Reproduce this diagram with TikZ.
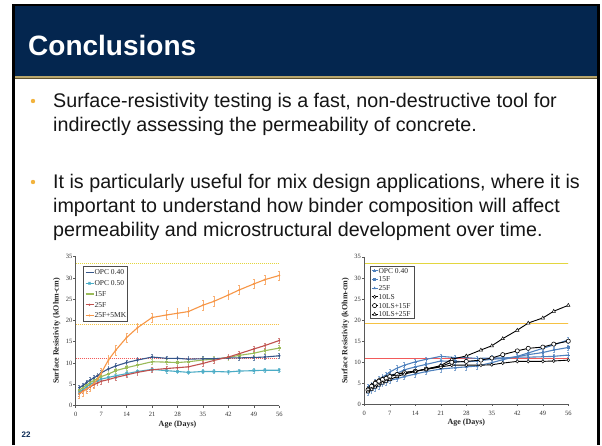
\documentclass[tikz,border=0pt]{standalone}
\usepackage{fontspec}
\setmainfont{Liberation Sans}
\newfontfamily\chartfont{Liberation Serif}
\definecolor{titlebg}{HTML}{04264F}
\definecolor{goldc}{HTML}{B9A66C}
\definecolor{golddk}{HTML}{5E5230}
\definecolor{bulc}{HTML}{F2B33D}
\definecolor{txtc}{HTML}{151515}
\definecolor{numc}{HTML}{0B2A55}
\definecolor{navyS}{HTML}{36568A}
\definecolor{cyanS}{HTML}{4BACC6}
\definecolor{greenS}{HTML}{9BBB59}
\definecolor{redS}{HTML}{C0504D}
\definecolor{orangeS}{HTML}{F79646}
\definecolor{blueS}{HTML}{4F81BD}
\definecolor{yelA}{HTML}{E3D63F}
\definecolor{yelB}{HTML}{F5C243}
\definecolor{redD}{HTML}{F25A5A}
\tikzset{
  txt/.style={anchor=base west, inner sep=0pt, text=txtc, font=\fontsize{19.7}{22}\selectfont},
  ticklab/.style={inner sep=0pt, text=black!80, font=\chartfont\fontsize{6.5}{7}\selectfont},
  axtitle/.style={inner sep=0pt, text=black!85, font=\chartfont\bfseries\fontsize{8}{9}\selectfont},
  leg/.style={anchor=west, inner sep=0pt, text=black!85, font=\chartfont\fontsize{7.5}{8}\selectfont},
  axisln/.style={draw=black!65, line width=0.5pt},
  thrA/.style={draw=yelA, line width=0.8pt, dash pattern=on 1.2pt off 0.8pt},
  thrB/.style={draw=yelB, line width=0.8pt, dash pattern=on 1.2pt off 0.8pt},
  thrC/.style={draw=redD, line width=0.8pt, dash pattern=on 1.2pt off 0.8pt},
  serln/.style={line width=1.1pt, line join=round},
  errln/.style={line width=0.45pt},
  pics/mksq/.style={code={\fill[#1] (-1.2pt,-1.2pt) rectangle (1.2pt,1.2pt);}},
  pics/mkdot/.style={code={\fill[#1] (0,0) circle (1.1pt);}},
  pics/mkdia/.style={code={\fill[#1] (0,1.5pt) -- (1.3pt,0) -- (0,-1.5pt) -- (-1.3pt,0) -- cycle;}},
  pics/mkx/.style={code={\draw[#1, line width=0.5pt] (-1.3pt,-1.3pt) -- (1.3pt,1.3pt) (-1.3pt,1.3pt) -- (1.3pt,-1.3pt) (0,-1.5pt) -- (0,1.5pt);}},
  pics/mktri/.style={code={\fill[#1] (0,1.7pt) -- (-1.5pt,-1.0pt) -- (1.5pt,-1.0pt) -- cycle;}},
  pics/mkplus/.style={code={\draw[#1, line width=0.6pt] (-1.4pt,0) -- (1.4pt,0) (0,-1.4pt) -- (0,1.4pt);}},
  pics/mkocirc/.style={code={\draw[black, line width=0.6pt, fill=white] (0,0) circle (2.1pt);}},
  pics/mkodia/.style={code={\draw[black, line width=0.5pt, fill=white] (0,1.6pt) -- (1.4pt,0) -- (0,-1.6pt) -- (-1.4pt,0) -- cycle;}},
  pics/mkotri/.style={code={\draw[black, line width=0.5pt, fill=white] (0,1.9pt) -- (-1.7pt,-1.1pt) -- (1.7pt,-1.1pt) -- cycle;}},
}
% data
\def\dNavy{1/4.2,2/4.7,3/5.4,4/6.0,5/6.5,6/7.0,7/7.7,9/8.6,11/9.3,14/10.1,17/10.7,21/11.4,25/11.1,28/11.1,31/10.9,35/11.0,38/11.0,42/11.2,45/11.2,49/11.3,52/11.4,56/11.7}
\def\dCyan{1/3.2,2/3.8,3/4.4,4/5.0,5/5.4,6/5.8,7/6.2,9/6.6,11/7.0,14/7.5,17/8.0,21/8.5,25/8.2,28/8.0,31/7.8,35/8.0,38/8.0,42/7.9,45/8.1,49/8.2,52/8.3,56/8.3}
\def\dGreen{1/3.6,2/4.2,3/4.8,4/5.4,5/5.9,6/6.3,7/6.8,9/7.4,11/8.2,14/8.9,17/9.5,21/10.3,25/10.2,28/10.1,31/10.3,35/10.7,38/10.9,42/11.3,45/11.8,49/12.3,52/12.9,56/13.5}
\def\dRed{1/2.8,2/3.4,3/3.9,4/4.4,5/4.9,6/5.3,7/5.7,9/6.1,11/6.6,14/7.2,17/7.8,21/8.4,25/8.7,28/8.9,31/9.1,35/9.9,38/10.6,42/11.4,45/12.2,49/13.3,52/14.1,56/15.3}
\def\dOrange{1/2.8,2/3.3,3/3.9,4/4.5,5/5.2,6/6.2,7/7.6,9/10.7,11/13.0,14/16.0,17/18.3,21/20.7,25/21.3,28/21.7,31/22.1,35/23.6,38/24.5,42/26.0,45/27.2,49/28.6,52/29.6,56/30.6}
\def\dLS{1/3.8,2/4.6,3/5.4,4/5.9,5/6.2,6/6.5,7/6.9,9/7.2,11/7.6,14/7.9,17/8.3,21/8.9,24/9.3,28/9.3,32/9.3,35/9.4,38/9.8,42/10.2,45/10.2,49/10.2,52/10.3,56/10.5}
\def\dLSa{1/3.4,2/4.3,3/5.0,4/5.5,5/5.9,6/6.2,7/6.6,9/7.1,11/7.5,14/7.9,17/8.4,21/9.0,24/10.0,28/10.2,32/10.5,35/11.0,38/11.8,42/12.7,45/13.3,49/13.6,52/14.3,56/15.0}
\def\dLSb{1/3.0,2/3.6,3/4.1,4/4.6,5/5.1,6/5.5,7/5.9,9/6.6,11/7.2,14/7.8,17/8.4,21/9.2,24/10.7,28/11.5,32/12.9,35/13.9,38/15.6,42/17.6,45/19.3,49/20.5,52/22.1,56/23.5}
\newcommand\serline[3]{\draw[serln,#1] (#2) \foreach \xd/\yv in #3 { -- (\xd,\yv)};}
\newcommand\sermarks[2]{\foreach \xd/\yv in #2 {\pic at (\xd,\yv) {#1};}}
\newcommand\sererr[3]{\foreach \xd/\yv in #3 {\draw[errln,#1] ([xshift=-0.9pt]\xd,\yv-#2) -- ([xshift=0.9pt]\xd,\yv-#2) (\xd,\yv-#2) -- (\xd,\yv+#2) ([xshift=-0.9pt]\xd,\yv+#2) -- ([xshift=0.9pt]\xd,\yv+#2);}}
\newcommand\chartaxes[1]{%
  \draw[thrA] (0,33.5) -- (56,33.5);
  \draw[thrB] (0,19.1) -- (56,19.1);
  \draw[thrC] (0,11.0) -- (56,11.0);
  \draw[axisln] (0,35) -- (0,0) -- (56,0);
  \foreach \t in {0,5,...,35}{\draw[axisln] (0,\t) -- ++(-2.3pt,0);
    \node[ticklab,anchor=east] (#1y\t) at ([xshift=-3.2pt]0,\t) {\t};}
  \foreach \t in {0,7,...,56}{\draw[axisln] (\t,0) -- ++(0,-2pt);
    \node[ticklab,anchor=base] (#1x\t) at ([yshift=-11pt]\t,0) {\t};}
  \node[axtitle,rotate=90] (#1yt) at ([xshift=-19pt]0,17.5) {Surface Resistivity (kOhm-cm)};
  \node[axtitle,anchor=base] (#1xt) at ([yshift=-20.5pt]28,0) {Age (Days)};
}
\begin{document}
\begin{tikzpicture}[x=1pt,y=-1pt]
\useasboundingbox (0,0) rectangle (602,445);
\fill[white] (0,0) rectangle (602,445);
% slide frame
\fill[black] (11.7,3.8) rectangle (600.3,445);
\fill[white] (14.8,6) rectangle (597.3,445);
\fill[titlebg] (14.8,6) rectangle (597.3,75.5);
\fill[goldc] (14.8,75.5) rectangle (597.3,78.3);
\draw[golddk, line width=0.7pt] (14.8,78.4) -- (597.3,78.4);
\node[anchor=base west, inner sep=0pt, text=white, font=\fontsize{28}{30}\selectfont\bfseries] (title) at (28,55) {Conclusions};
% bullets
\fill[bulc] (33,101) circle (2.2pt);
\node[txt] (b1a) at (53,107) {Surface-resistivity testing is a fast, non-destructive tool for};
\node[txt] (b1b) at (53,131) {indirectly assessing the permeability of concrete.};
\fill[bulc] (33,182) circle (2.2pt);
\node[txt] (b2a) at (53,188) {It is particularly useful for mix design applications, where it is};
\node[txt] (b2b) at (53,212) {important to understand how binder composition will affect};
\node[txt] (b2c) at (53,236) {permeability and microstructural development over time.};
% slide number
\node[anchor=base west, inner sep=0pt, text=numc, font=\fontsize{8}{9}\selectfont\bfseries] (pnum) at (21.5,437) {22};
% ---------- left chart ----------
\begin{scope}[shift={(75.7pt,-405.5pt)}, x=3.636pt, y=4.251pt]
  \chartaxes{L}
  \sererr{navyS!70}{0.6}{\dNavy}
  \sererr{cyanS!70}{0.5}{\dCyan}
  \sererr{greenS!70}{0.6}{\dGreen}
  \sererr{redS!70}{0.6}{\dRed}
  \sererr{orangeS!75}{1.1}{\dOrange}
  \serline{cyanS}{1,3.2}{\dCyan}
  \sermarks{mkx=cyanS}{\dCyan}
  \serline{greenS}{1,3.6}{\dGreen}
  \sermarks{mksq=greenS}{\dGreen}
  \serline{navyS}{1,4.2}{\dNavy}
  \sermarks{mkdia=navyS}{\dNavy}
  \serline{redS}{1,2.8}{\dRed}
  \sermarks{mkdot=redS}{\dRed}
  \serline{orangeS}{1,2.8}{\dOrange}
  \sermarks{mkdot=orangeS}{\dOrange}
\end{scope}
% left legend
\draw[black!70, line width=0.5pt, fill=white] (83.3,266.7) rectangle (127.3,321.7);
\draw[serln, navyS] (85.5,272.5) -- (93.5,272.5);
\node[leg] (lg1) at (94.3,272.5) {OPC 0.40};
\draw[serln, cyanS] (85.5,283.3) -- (93.5,283.3); \pic at (89.5,283.3) {mkx=cyanS};
\node[leg] (lg2) at (94.3,283.3) {OPC 0.50};
\draw[serln, greenS] (85.5,294) -- (93.5,294); \pic at (89.5,294) {mksq=greenS};
\node[leg] (lg3) at (94.3,294) {15F};
\draw[serln, redS] (85.5,304.8) -- (93.5,304.8); \pic at (89.5,304.8) {mkdot=redS};
\node[leg] (lg4) at (94.3,304.8) {25F};
\draw[serln, orangeS] (85.5,315.5) -- (93.5,315.5); \pic at (89.5,315.5) {mkdot=orangeS};
\node[leg] (lg5) at (94.3,315.5) {25F+5MK};
% ---------- right chart ----------
\begin{scope}[shift={(364.3pt,-404.4pt)}, x=3.643pt, y=4.217pt]
  \chartaxes{R}
  \sererr{blueS!70}{0.6}{\dNavy}
  \sererr{blueS!70}{0.6}{\dGreen}
  \sererr{blueS!70}{0.7}{\dRed}
  \serline{blueS}{1,4.2}{\dNavy}
  \sermarks{mkplus=blueS}{\dNavy}
  \serline{blueS}{1,3.6}{\dGreen}
  \sermarks{mksq=blueS}{\dGreen}
  \serline{blueS}{1,2.8}{\dRed}
  \sermarks{mktri=blueS}{\dRed}
  \serline{black, line width=0.9pt}{1,3.8}{\dLS}
  \sermarks{mkodia}{\dLS}
  \serline{black, line width=0.9pt}{1,3.4}{\dLSa}
  \sermarks{mkocirc}{\dLSa}
  \serline{black, line width=0.9pt}{1,3.0}{\dLSb}
  \sermarks{mkotri}{\dLSb}
\end{scope}
% right legend
\draw[black!70, line width=0.5pt, fill=white] (370,266) rectangle (414,318.3);
\draw[serln, blueS] (371.5,270.8) -- (377.7,270.8); \pic at (374.6,270.8) {mkplus=blueS};
\node[leg] (rg1) at (378.3,270.8) {OPC 0.40};
\draw[serln, blueS] (371.5,279.5) -- (377.7,279.5); \pic at (374.6,279.5) {mksq=blueS};
\node[leg] (rg2) at (378.3,279.5) {15F};
\draw[serln, blueS] (371.5,288.2) -- (377.7,288.2); \pic at (374.6,288.2) {mktri=blueS};
\node[leg] (rg3) at (378.3,288.2) {25F};
\draw[black, line width=0.9pt] (371.5,296.9) -- (377.7,296.9); \pic at (374.6,296.9) {mkodia};
\node[leg] (rg4) at (378.3,296.9) {10LS};
\draw[black, line width=0.9pt] (371.5,305.6) -- (377.7,305.6); \pic at (374.6,305.6) {mkocirc};
\node[leg] (rg5) at (378.3,305.6) {10LS+15F};
\draw[black, line width=0.9pt] (371.5,314.3) -- (377.7,314.3); \pic at (374.6,314.3) {mkotri};
\node[leg] (rg6) at (378.3,314.3) {10LS+25F};
\end{tikzpicture}
\end{document}
